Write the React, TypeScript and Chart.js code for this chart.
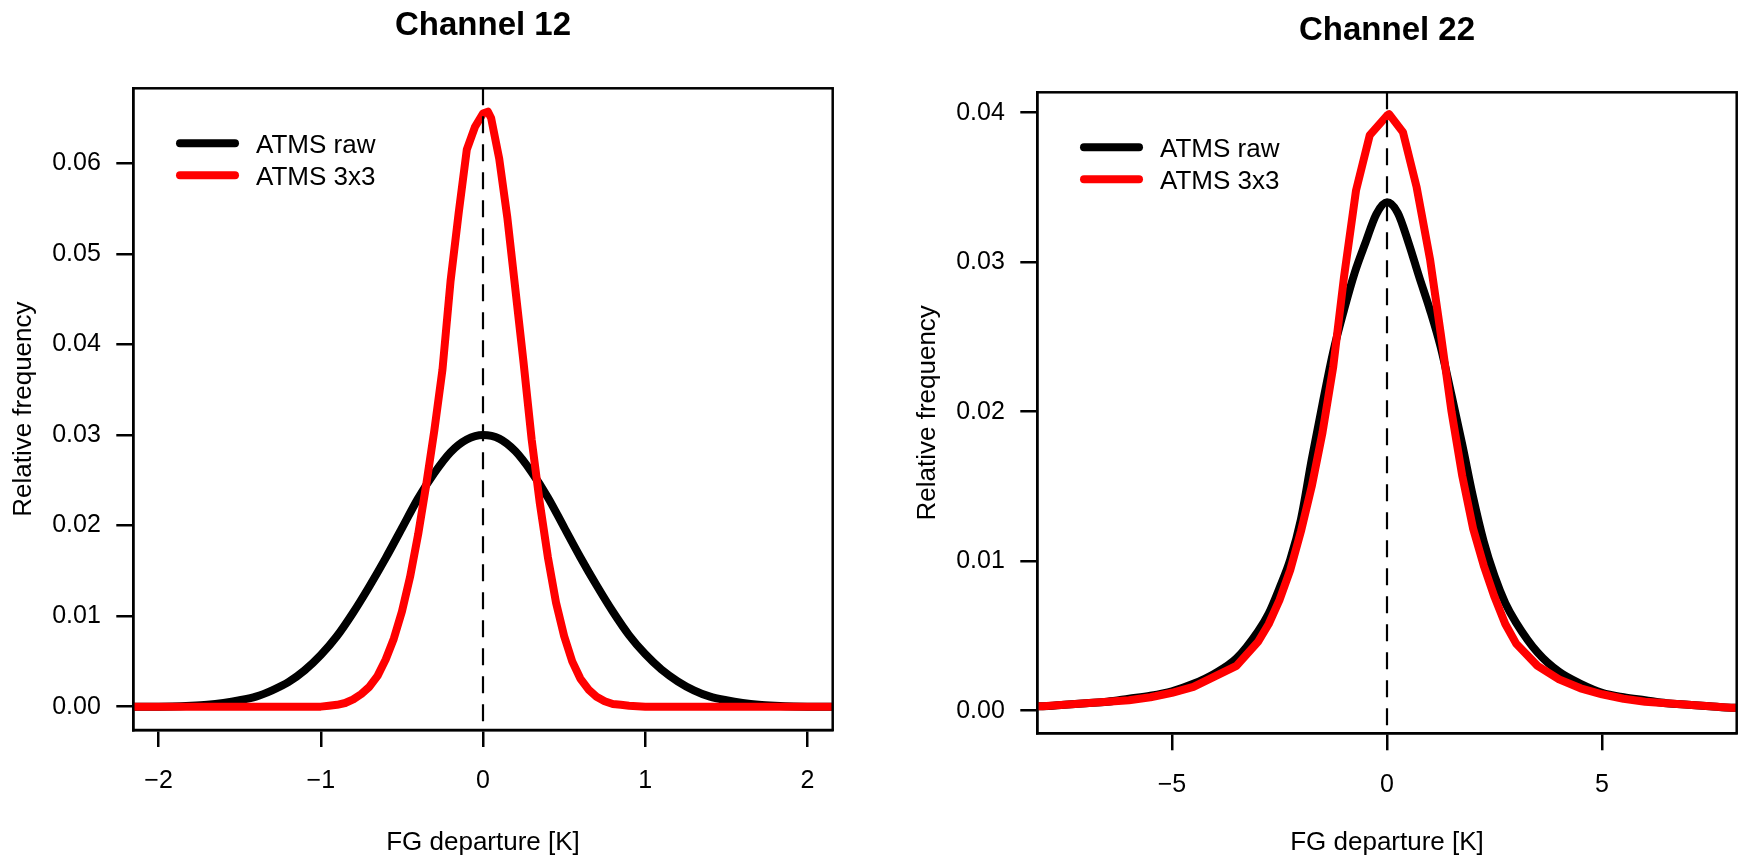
import React, { useEffect, useRef } from 'react';
import { Chart, registerables } from 'chart.js';

Chart.register(...registerables);

const FONT = '"Liberation Sans", Arial, Helvetica, sans-serif';

// ---------- Channel 12 ----------
const ch12RawX = [-2.2, -2.0, -1.8, -1.7, -1.6, -1.5, -1.4, -1.3, -1.2, -1.1, -1.0, -0.9, -0.8, -0.7, -0.6, -0.5, -0.4, -0.3, -0.2, -0.1, 0.0, 0.1, 0.2, 0.3, 0.4, 0.5, 0.6, 0.7, 0.8, 0.9, 1.0, 1.1, 1.2, 1.3, 1.4, 1.5, 1.6, 1.7, 1.8, 2.0, 2.2];
const ch12RawY = [0.0000, 0.0000, 0.0001, 0.0002, 0.0004, 0.0007, 0.0011, 0.0018, 0.0027, 0.0040, 0.0057, 0.0078, 0.0104, 0.0133, 0.0164, 0.0197, 0.0230, 0.0258, 0.0281, 0.0295, 0.0300, 0.0296, 0.0282, 0.0259, 0.0231, 0.0198, 0.0165, 0.0134, 0.0105, 0.0079, 0.0058, 0.0041, 0.0028, 0.0018, 0.0011, 0.0007, 0.0004, 0.0002, 0.0001, 0.0000, 0.0000];
const ch12SmoothX = [-2.2, -1.2, -1.0, -0.95, -0.9, -0.85, -0.8, -0.75, -0.7, -0.65, -0.6, -0.55, -0.5, -0.45, -0.4, -0.35, -0.3, -0.25, -0.2, -0.15, -0.1, -0.05, 0.0, 0.03, 0.05, 0.1, 0.15, 0.2, 0.25, 0.3, 0.35, 0.4, 0.45, 0.5, 0.55, 0.6, 0.65, 0.7, 0.75, 0.8, 0.85, 0.9, 1.0, 1.2, 2.2];
const ch12SmoothY = [0.0000, 0.0000, 0.0000, 0.0001, 0.0002, 0.0004, 0.0008, 0.0014, 0.0022, 0.0034, 0.0052, 0.0075, 0.0105, 0.0143, 0.0190, 0.0245, 0.0305, 0.0372, 0.0470, 0.0545, 0.0615, 0.0640, 0.0655, 0.0657, 0.0650, 0.0605, 0.0540, 0.0460, 0.0380, 0.0295, 0.0225, 0.0165, 0.0115, 0.0078, 0.0050, 0.0031, 0.0019, 0.0011, 0.0006, 0.0003, 0.0002, 0.0001, 0.0000, 0.0000, 0.0000];
const ch12XTicks = [-2, -1, 0, 1, 2];
const ch12YTicks = [0.0, 0.01, 0.02, 0.03, 0.04, 0.05, 0.06];

// ---------- Channel 22 ----------
const ch22RawX = [-8.25, -8.0, -7.5, -7.0, -6.5, -6.0, -5.5, -5.0, -4.5, -4.0, -3.5, -3.0, -2.75, -2.5, -2.25, -2.0, -1.75, -1.5, -1.25, -1.0, -0.75, -0.5, -0.25, 0.0, 0.25, 0.5, 0.75, 1.0, 1.25, 1.5, 1.75, 2.0, 2.25, 2.5, 2.75, 3.0, 3.5, 4.0, 4.5, 5.0, 5.5, 6.0, 6.5, 7.0, 7.5, 8.0, 8.25];
const ch22RawY = [0.0003, 0.0003, 0.0004, 0.0005, 0.0006, 0.0008, 0.0010, 0.0013, 0.0018, 0.0025, 0.0035, 0.0053, 0.0065, 0.0082, 0.0101, 0.0128, 0.0168, 0.0205, 0.0240, 0.0268, 0.0293, 0.0313, 0.0332, 0.0340, 0.0333, 0.0313, 0.0290, 0.0268, 0.0243, 0.0211, 0.0178, 0.0143, 0.0113, 0.0090, 0.0072, 0.0059, 0.0039, 0.0026, 0.0018, 0.0012, 0.0009, 0.0007, 0.0005, 0.0004, 0.0003, 0.0002, 0.0002];
const ch22SmoothX = [-8.25, -8.0, -7.5, -7.0, -6.5, -6.0, -5.5, -5.0, -4.5, -4.0, -3.5, -3.0, -2.75, -2.5, -2.25, -2.0, -1.75, -1.5, -1.25, -1.0, -0.72, -0.4, 0.0, 0.05, 0.37, 0.69, 1.0, 1.25, 1.5, 1.75, 2.0, 2.25, 2.5, 2.75, 3.0, 3.5, 4.0, 4.5, 5.0, 5.5, 6.0, 6.5, 7.0, 7.5, 8.0, 8.25];
const ch22SmoothY = [0.0003, 0.0003, 0.0004, 0.0005, 0.0006, 0.0007, 0.0009, 0.0012, 0.0016, 0.0023, 0.0030, 0.0046, 0.0058, 0.0074, 0.0094, 0.0120, 0.0150, 0.0186, 0.0230, 0.0290, 0.0348, 0.0385, 0.0398, 0.0399, 0.0387, 0.0350, 0.0302, 0.0252, 0.0200, 0.0157, 0.0122, 0.0097, 0.0076, 0.0058, 0.0045, 0.0030, 0.0021, 0.0015, 0.0011, 0.0008, 0.0006, 0.0005, 0.0004, 0.0003, 0.0002, 0.0002];
const ch22XTicks = [-5, 0, 5];
const ch22YTicks = [0.0, 0.01, 0.02, 0.03, 0.04];

const seriesLabels = ['ATMS raw', 'ATMS 3x3'];
const seriesColors = ['#000000', '#ff0000'];
const xTitle = 'FG departure [K]';
const yTitle = 'Relative frequency';

type PanelDef = {
  title: string;
  canvasLeft: number;
  rawX: number[]; rawY: number[];
  smX: number[]; smY: number[];
  xTicks: number[]; yTicks: number[];
  xMin: number; xMax: number; yMin: number; yMax: number;
  areaLeft: number; areaRight: number; areaTop: number; areaBottom: number;
  titlePadTop: number;
  yTitlePad: number;
};

const W = 871;
const H = 860;
const TITLE_SIZE = 33;

const panels: PanelDef[] = [
  {
    title: 'Channel 12', canvasLeft: 0,
    rawX: ch12RawX, rawY: ch12RawY, smX: ch12SmoothX, smY: ch12SmoothY,
    xTicks: ch12XTicks, yTicks: ch12YTicks,
    xMin: -2.156, xMax: 2.156, yMin: -0.00258, yMax: 0.06828,
    areaLeft: 133.3, areaRight: 832.7, areaTop: 88.3, areaBottom: 730,
    titlePadTop: 6.0, yTitlePad: 8.4,
  },
  {
    title: 'Channel 22', canvasLeft: 871,
    rawX: ch22RawX, rawY: ch22RawY, smX: ch22SmoothX, smY: ch22SmoothY,
    xTicks: ch22XTicks, yTicks: ch22YTicks,
    xMin: -8.13, xMax: 8.13, yMin: -0.00151, yMax: 0.04136,
    areaLeft: 166.3, areaRight: 865.7, areaTop: 92.3, areaBottom: 733.3,
    titlePadTop: 11.0, yTitlePad: 41.4,
  },
];

const zip = (xs: number[], ys: number[]) => xs.map((x, i) => ({ x, y: ys[i] }));
const fmtX = (v: number) => String(v).replace('-', '\u2212');

const boxPlugin = {
  id: 'rbox',
  afterDatasetsDraw(chart: any) {
    const { ctx, chartArea: a } = chart;
    ctx.save();
    ctx.strokeStyle = '#000';
    ctx.lineWidth = 2.5;
    ctx.strokeRect(a.left, a.top, a.right - a.left, a.bottom - a.top);
    ctx.restore();
  },
};

const insetLegend = {
  id: 'insetLegend',
  afterDraw(chart: any) {
    const { ctx, chartArea: a } = chart;
    const items = chart.data.datasets.filter((d: any) => seriesLabels.includes(d.label));
    ctx.save();
    items.forEach((d: any, i: number) => {
      const y = a.top + 55 + i * 32;
      const x0 = a.left + 46.7;
      ctx.strokeStyle = d.borderColor;
      ctx.lineWidth = 8;
      ctx.lineCap = 'round';
      ctx.beginPath();
      ctx.moveTo(x0, y);
      ctx.lineTo(x0 + 55, y);
      ctx.stroke();
      ctx.fillStyle = '#000';
      ctx.font = `26px ${FONT}`;
      ctx.textBaseline = 'middle';
      ctx.textAlign = 'left';
      ctx.fillText(d.label, x0 + 76, y + 2.5);
    });
    ctx.restore();
  },
};

function makeConfig(p: PanelDef): any {
  const titleLH = TITLE_SIZE * 1.2;
  return {
    type: 'line',
    data: {
      datasets: [
        {
          label: seriesLabels[0], data: zip(p.rawX, p.rawY), borderColor: seriesColors[0],
          borderWidth: 8, pointRadius: 0, cubicInterpolationMode: 'monotone', borderCapStyle: 'round',
          borderJoinStyle: 'round', clip: 0, order: 2,
        },
        {
          label: seriesLabels[1], data: zip(p.smX, p.smY), borderColor: seriesColors[1],
          borderWidth: 8, pointRadius: 0, tension: 0, borderCapStyle: 'round',
          borderJoinStyle: 'round', clip: 0, order: 1,
        },
        {
          label: 'zero', data: [{ x: 0, y: p.yMax }, { x: 0, y: p.yMin }], borderColor: '#000',
          borderWidth: 2.2, borderDash: [17, 11], pointRadius: 0, clip: 0, order: 0,
        },
      ],
    },
    options: {
      animation: false,
      responsive: false,
      devicePixelRatio: 1,
      layout: { padding: { left: 0, right: W - p.areaRight, top: 0, bottom: 0 } },
      plugins: {
        legend: { display: false },
        tooltip: { enabled: false },
        title: {
          display: true, text: p.title, color: '#000', fullSize: false,
          font: { family: FONT, size: TITLE_SIZE, weight: 'bold', lineHeight: 1.2 },
          padding: { top: p.titlePadTop, bottom: p.areaTop - p.titlePadTop - titleLH },
        },
      },
      scales: {
        x: {
          type: 'linear', min: p.xMin, max: p.xMax,
          afterBuildTicks: (s: any) => { s.ticks = p.xTicks.map((v) => ({ value: v })); },
          afterFit: (s: any) => { s.height = H - p.areaBottom; },
          ticks: { color: '#000', font: { family: FONT, size: 25 }, padding: 19.5, autoSkip: false, maxRotation: 0, callback: (v: number) => fmtX(v) },
          grid: { display: true, drawOnChartArea: false, drawTicks: true, tickLength: 17, lineWidth: 2.5, color: '#000' },
          border: { display: true, color: '#000', width: 2.5 },
          title: { display: true, text: xTitle, color: '#000', font: { family: FONT, size: 26, lineHeight: 1.2 }, padding: { top: 0, bottom: 1.4 } },
        },
        y: {
          type: 'linear', min: p.yMin, max: p.yMax,
          afterBuildTicks: (s: any) => { s.ticks = p.yTicks.map((v) => ({ value: v })); },
          afterFit: (s: any) => { s.width = p.areaLeft; },
          ticks: { color: '#000', font: { family: FONT, size: 25 }, padding: 15.5, autoSkip: false, callback: (v: number) => v.toFixed(2) },
          grid: { display: true, drawOnChartArea: false, drawTicks: true, tickLength: 17, lineWidth: 2.5, color: '#000' },
          border: { display: true, color: '#000', width: 2.5 },
          title: { display: true, text: yTitle, color: '#000', font: { family: FONT, size: 26, lineHeight: 1.2 }, padding: { top: p.yTitlePad, bottom: 0 } },
        },
      },
    },
    plugins: [boxPlugin, insetLegend],
  };
}

function PanelChart({ p }: { p: PanelDef }) {
  const ref = useRef<HTMLCanvasElement>(null);
  useEffect(() => {
    const chart = new Chart(ref.current as HTMLCanvasElement, makeConfig(p));
    return () => chart.destroy();
  }, [p]);
  return (
    <canvas
      ref={ref}
      width={W}
      height={H}
      style={{ position: 'absolute', left: p.canvasLeft, top: 0, width: W, height: H }}
    />
  );
}

export default function App() {
  return (
    <div style={{ position: 'absolute', left: 0, top: 0, width: 1742, height: 860, background: '#fff', overflow: 'hidden' }}>
      {panels.map((p) => (
        <PanelChart key={p.title} p={p} />
      ))}
    </div>
  );
}
